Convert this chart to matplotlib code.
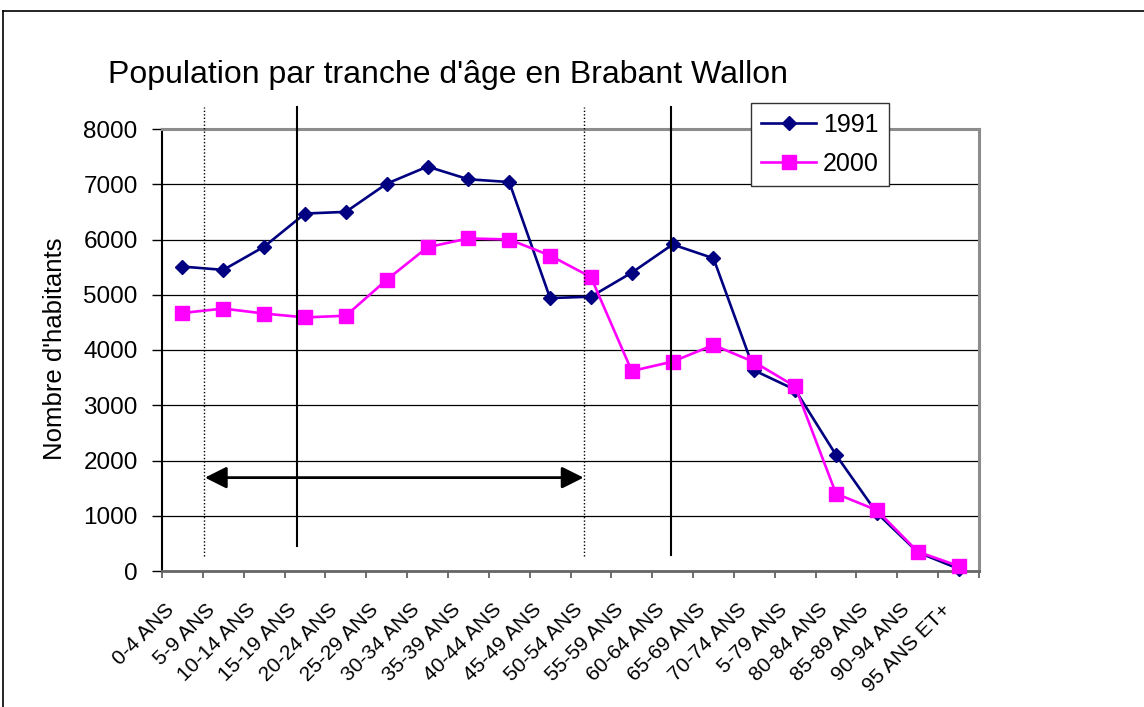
import matplotlib
matplotlib.use("Agg")
import matplotlib.pyplot as plt
from matplotlib.lines import Line2D
from matplotlib.transforms import ScaledTranslation, blended_transform_factory

plt.rcParams['font.family'] = ['Liberation Sans', 'DejaVu Sans']

categories = ["0-4 ANS", "5-9 ANS", "10-14 ANS", "15-19 ANS", "20-24 ANS", "25-29 ANS",
              "30-34 ANS", "35-39 ANS", "40-44 ANS", "45-49 ANS", "50-54 ANS", "55-59 ANS",
              "60-64 ANS", "65-69 ANS", "70-74 ANS", "5-79 ANS", "80-84 ANS", "85-89 ANS",
              "90-94 ANS", "95 ANS ET+"]
pop_1991 = [5510, 5450, 5870, 6470, 6500, 7010, 7320, 7090, 7040, 4940, 4965,
            5400, 5910, 5660, 3630, 3280, 2100, 1050, 340, 40]
pop_2000 = [4670, 4750, 4660, 4590, 4620, 5270, 5860, 6020, 6000, 5710, 5320,
            3620, 3790, 4090, 3780, 3340, 1400, 1100, 350, 90]
y_ticks = [0, 1000, 2000, 3000, 4000, 5000, 6000, 7000, 8000]

W, H = 1144, 707
fig = plt.figure(figsize=(W / 100, H / 100), dpi=100)
ax = fig.add_axes([162 / W, 1 - 571 / H, (979 - 162) / W, (571 - 129) / H])

x = list(range(len(categories)))
ax.plot(x, pop_1991, color='#000080', lw=1.9, marker='D', ms=7,
        mec='#000080', mfc='#000080', label='1991', zorder=5, clip_on=False)
ax.plot(x, pop_2000, color='#FF00FF', lw=1.9, marker='s', ms=10.5,
        mec='#FF00FF', mfc='#FF00FF', label='2000', zorder=6, clip_on=False)

ax.set_xlim(-0.5, len(categories) - 0.5)
ax.set_ylim(0, 8000)
ax.set_yticks(y_ticks)
ax.set_yticklabels([str(v) for v in y_ticks], fontsize=17.5)
ax.yaxis.grid(True, color='black', lw=0.9)
ax.set_axisbelow(True)

# category boundary ticks; labels drawn as rotated texts under category centres
ax.set_xticks([i - 0.5 for i in range(len(categories) + 1)])
ax.set_xticklabels([])
ax.tick_params(axis='x', which='major', length=5, width=1.2, color='#555555', direction='out')
ax.tick_params(axis='y', length=7, width=1.0, direction='out', pad=10.5)

lab_trans = blended_transform_factory(ax.transData, ax.transAxes) + \
    ScaledTranslation(-11 / 100, -36 / 100, fig.dpi_scale_trans)
for xi, cat in zip(x, categories):
    ax.text(xi, 0, cat, transform=lab_trans, rotation=45, ha='right', va='center',
            rotation_mode='anchor', fontsize=15, clip_on=False)

for s in ['top', 'right']:
    ax.spines[s].set_color('#8c8c8c')
    ax.spines[s].set_linewidth(2.2)
ax.spines['bottom'].set_color('#666666')
ax.spines['bottom'].set_linewidth(2.0)
ax.spines['left'].set_color('black')
ax.spines['left'].set_linewidth(1.5)

# annotation guide lines
ax.plot([0.53, 0.53], [270, 8400], color='black', lw=1.0, ls=(0, (1, 1.5)), clip_on=False, zorder=7)
ax.plot([9.84, 9.84], [270, 8400], color='black', lw=1.0, ls=(0, (1, 1.5)), clip_on=False, zorder=7)
ax.plot([2.80, 2.80], [450, 8400], color='black', lw=1.5, clip_on=False, zorder=7)
ax.plot([11.96, 11.96], [290, 8400], color='black', lw=1.5, clip_on=False, zorder=7)
ax.annotate('', xy=(0.55, 1690), xytext=(9.82, 1690),
            arrowprops=dict(arrowstyle='<|-|>', color='black', lw=2, mutation_scale=33,
                            shrinkA=0, shrinkB=0), zorder=8)

fig.text(108 / W, 1 - 83 / H, "Population par tranche d'âge en Brabant Wallon",
         fontsize=23, va='baseline', ha='left')
fig.text(55 / W, 1 - 349 / H, "Nombre d'habitants", rotation=90, fontsize=18.5,
         va='center', ha='center')

leg = ax.legend(loc='upper left', bbox_to_anchor=(751 / W, 1 - 103 / H),
                bbox_transform=fig.transFigure, borderaxespad=0, fontsize=18,
                frameon=True, fancybox=False, framealpha=1, edgecolor='#333333',
                handlelength=2.2, labelspacing=0.6, borderpad=0.4, handletextpad=0.28)
leg.get_frame().set_linewidth(1.0)
leg.set_zorder(10)

# figure border
fig.add_artist(Line2D([3 / W, 1], [1 - 11 / H, 1 - 11 / H], color='black', lw=1.2,
                      transform=fig.transFigure))
fig.add_artist(Line2D([3 / W, 3 / W], [0, 1 - 11 / H], color='black', lw=1.2,
                      transform=fig.transFigure))

fig.savefig('out.png', dpi=100)
